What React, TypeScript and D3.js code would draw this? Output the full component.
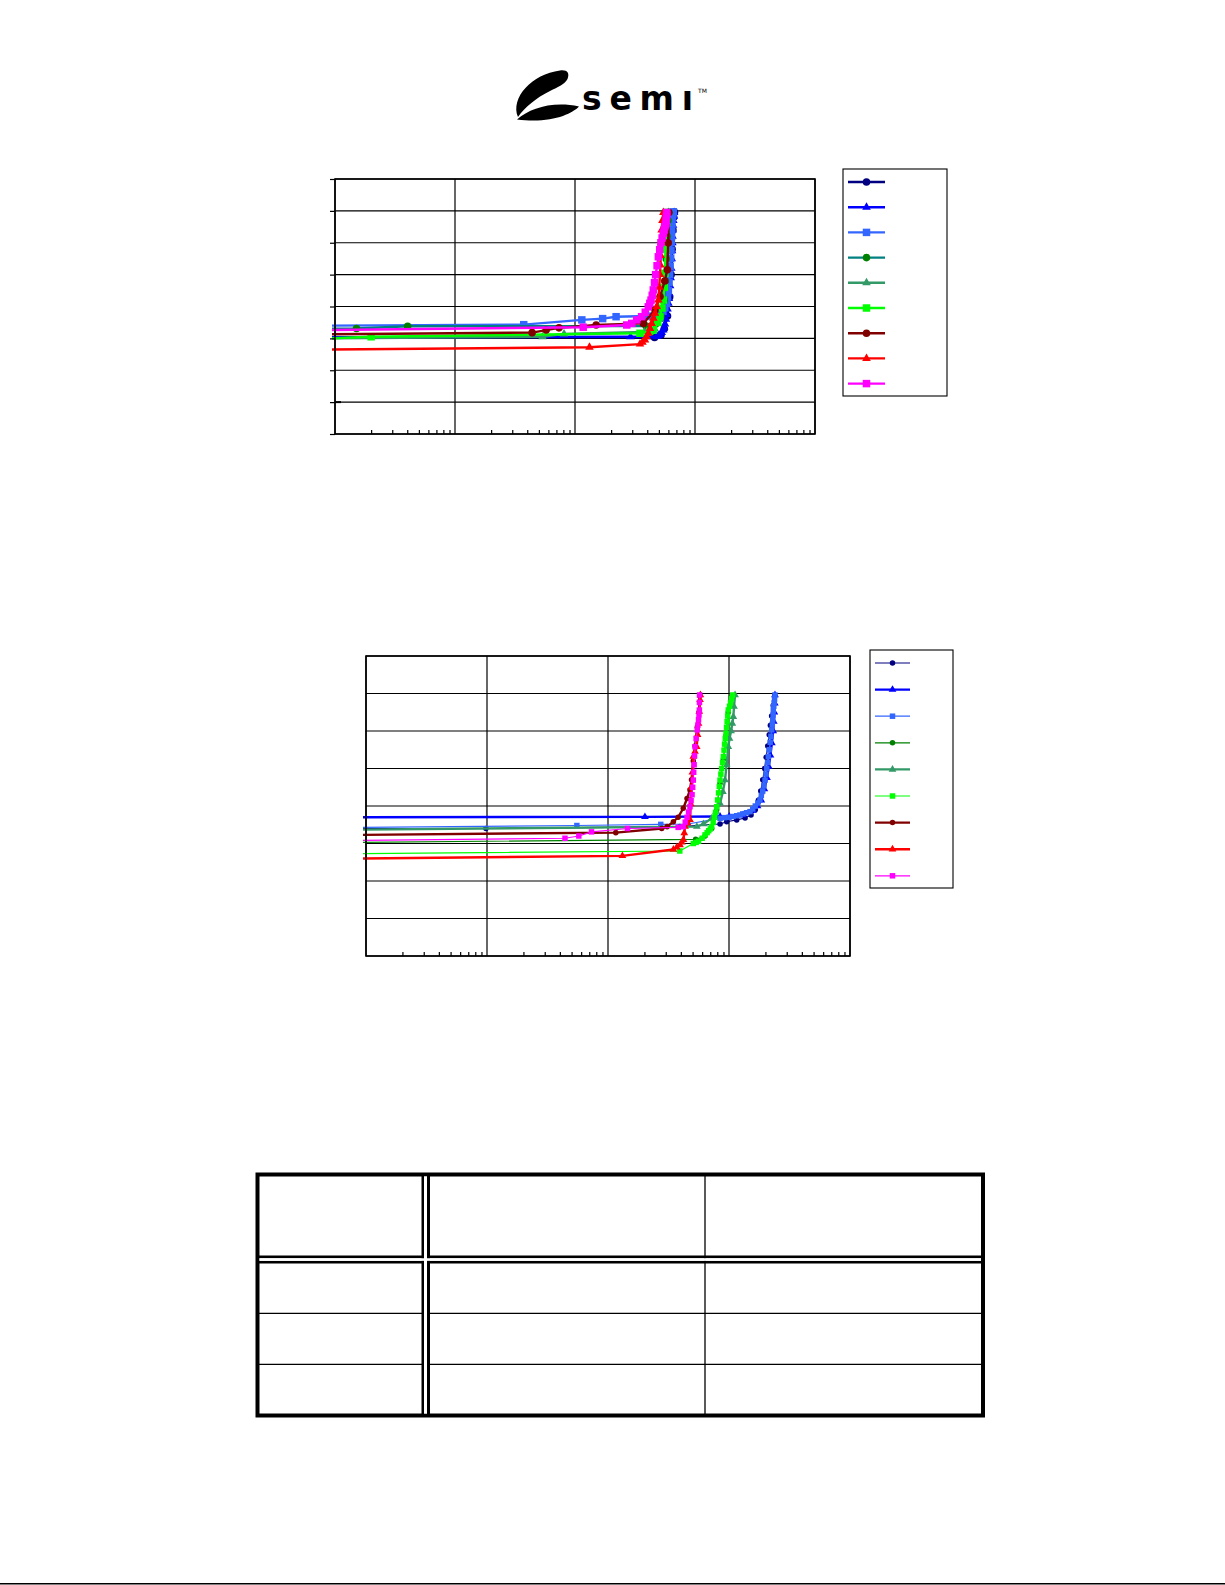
import * as d3 from 'd3';
import React, { useRef, useEffect } from 'react';

type Pt = [number, number];

// axis grid (log x over four decades, linear y)
const decades = [1, 10, 100, 1000, 10000];
const yGrid = [0, 10, 20, 30, 40, 50, 60, 70, 80];
const minorTicks = decades.slice(0, 4).flatMap((d) => [2, 3, 4, 5, 6, 7, 8, 9].map((m) => d * m));

// series styling, legend order
const markShapes = ['circle', 'triangle', 'square', 'circle', 'triangle', 'square', 'circle', 'triangle', 'square'];
const lineColors1 = ['#000080', '#0000FF', '#3366FF', '#008080', '#339966', '#00FF00', '#800000', '#FF0000', '#FF00FF'];
const markColors1 = ['#000080', '#0000FF', '#3366FF', '#008000', '#339966', '#00FF00', '#800000', '#FF0000', '#FF00FF'];
const lineColors2 = ['#000080', '#0000FF', '#3366FF', '#008000', '#339966', '#00FF00', '#800000', '#FF0000', '#FF00FF'];
const thick2 = [false, true, false, false, true, false, true, true, false];

// chart 1 series
const c1Navy: Pt[] = [[0.85, 30.2], [460, 30.3], [520, 31.0], [555, 33.0], [590, 37.0], [615, 43.0], [632, 50.0], [645, 58.0], [655, 64.0], [665, 68.0], [674, 69.6]];
const c1Blue: Pt[] = [[0.85, 30.4], [290, 30.5], [400, 30.5], [479, 30.6], [495, 30.9], [511, 31.2], [528, 31.8], [544, 32.6], [553, 33.5], [562, 34.5], [572, 36.0], [581, 37.5], [590, 39.2], [600, 41.0], [606, 42.5], [611, 44.0], [620, 46.5], [627, 49.0], [634, 52.0], [640, 55.0], [644, 57.5], [648, 60.0], [650, 62.0], [652, 64.0], [656, 65.5], [660, 67.0], [665, 68.3], [670, 69.5]];
const c1LightBlue: Pt[] = [[0.85, 34.0], [37.4, 34.3], [114, 35.8], [170, 36.2], [220, 36.8], [408, 37.0], [480, 37.5], [510, 37.9], [540, 38.5], [560, 39.6], [580, 41.0], [590, 43.0], [600, 45.0], [608, 47.5], [615, 50.0], [621, 52.5], [627, 55.0], [631, 57.5], [635, 60.0], [638, 62.0], [640, 64.0], [644, 66.0], [648, 68.0], [654, 69.0], [660, 69.7]];
const c1Teal: Pt[] = [[0.85, 33.0], [1.51, 33.1], [4.03, 33.8], [392, 33.9], [470, 34.5], [520, 37.0], [550, 42.0], [565, 48.0], [575, 55.0], [585, 62.0], [595, 67.0], [605, 69.5]];
const c1SeaGreen: Pt[] = [[0.85, 30.0], [53.6, 30.5], [81, 31.4], [380, 32.0], [460, 33.0], [510, 36.0], [540, 42.0], [560, 50.0], [575, 58.0], [590, 66.0], [600, 69.5]];
const c1Lime: Pt[] = [[0.85, 30.0], [2.0, 30.5], [348, 31.6], [420, 32.2], [449, 32.6], [490, 35.0], [511, 36.8], [530, 39.5], [544, 42.0], [555, 46.0], [562, 50.4], [568, 58.0], [573, 66.0], [580, 69.5]];
const c1DarkRed: Pt[] = [[0.85, 31.3], [43.9, 31.8], [57.5, 32.6], [73.6, 33.3], [150, 34.2], [371, 34.7], [464, 38.9], [511, 43.1], [560, 48.0], [588, 51.5], [598, 60.0], [605, 69.5]];
const c1Red: Pt[] = [[0.85, 26.5], [132, 27.2], [348, 28.2], [365, 28.8], [383, 29.5], [395, 30.5], [408, 31.6], [422, 33.1], [435, 34.7], [450, 36.3], [464, 37.9], [480, 40.0], [495, 42.0], [503, 46.0], [511, 50.0], [515, 53.0], [518, 56.0], [522, 60.0], [527, 64.0], [535, 67.0], [545, 69.5]];
const c1Magenta: Pt[] = [[0.85, 32.6], [117, 33.5], [270, 34.2], [297, 34.7], [327, 35.8], [359, 36.8], [385, 38.2], [408, 39.9], [420, 41.0], [430, 42.0], [440, 43.5], [449, 45.2], [460, 47.5], [470, 50.0], [483, 52.8], [495, 55.6], [508, 57.8], [520, 60.0], [532, 61.5], [544, 63.0], [553, 64.0], [560, 65.0], [567, 65.6], [573, 66.1], [576, 67.0], [578, 68.0], [580, 68.8], [581, 69.5]];

// chart 2 series
const c2Navy: Pt[] = [[0.85, 34.0], [9.8, 34.0], [392, 34.5], [843, 35.2], [957, 35.8], [1158, 36.3], [1358, 36.8], [1521, 37.6], [1650, 39.0], [1750, 41.5], [1830, 44.0], [1900, 47.0], [1970, 50.0], [2030, 53.0], [2090, 56.0], [2150, 59.0], [2200, 61.5], [2250, 64.0], [2320, 66.8], [2388, 69.4]];
const c2Blue: Pt[] = [[0.85, 37.0], [202, 37.1], [843, 37.2], [1004, 37.2], [1307, 37.6], [1579, 38.8], [1720, 40.0], [1850, 41.5], [1960, 44.5], [2060, 47.5], [2130, 50.5], [2200, 53.5], [2260, 56.8], [2320, 60.0], [2345, 62.5], [2370, 65.0], [2390, 67.4], [2399, 69.6]];
const c2LightBlue: Pt[] = [[0.85, 34.3], [55.3, 34.8], [273, 35.1], [456, 35.2], [843, 36.7], [920, 36.9], [1000, 37.0], [1080, 37.2], [1158, 37.4], [1230, 37.6], [1300, 37.9], [1400, 38.2], [1492, 38.5], [1570, 39.2], [1650, 40.0], [1730, 40.8], [1803, 41.6], [1850, 42.8], [1900, 44.0], [1945, 45.4], [1984, 46.9], [2020, 48.5], [2050, 50.0], [2085, 51.6], [2113, 53.2], [2150, 55.0], [2190, 57.0], [2220, 58.6], [2253, 60.3], [2280, 61.8], [2300, 63.0], [2315, 64.3], [2323, 65.6], [2345, 66.6], [2360, 67.5], [2380, 68.5], [2399, 69.6]];
const c2Green: Pt[] = [[0.85, 30.3], [530, 31.1], [634, 32.0], [719, 34.0], [791, 39.0], [843, 46.0], [898, 52.5], [945, 58.8], [986, 65.0], [1060, 69.4]];
const c2SeaGreen: Pt[] = [[0.85, 33.7], [542, 34.5], [615, 35.2], [719, 36.7], [780, 38.5], [843, 40.7], [890, 43.8], [927, 46.9], [955, 51.0], [986, 55.8], [1010, 58.0], [1040, 60.0], [1065, 62.0], [1086, 63.8], [1100, 66.5], [1122, 69.6]];
const c2Lime: Pt[] = [[0.85, 27.3], [392, 28.0], [507, 30.0], [535, 30.3], [560, 30.6], [600, 31.4], [634, 32.3], [660, 32.9], [680, 33.4], [700, 33.9], [719, 34.5], [740, 35.6], [760, 37.0], [775, 38.3], [791, 39.8], [805, 41.6], [820, 43.5], [832, 45.2], [843, 46.9], [857, 48.5], [870, 50.0], [884, 51.6], [898, 53.2], [910, 54.9], [920, 56.5], [932, 58.0], [945, 59.4], [955, 61.0], [965, 62.5], [975, 64.0], [986, 65.6], [1010, 66.6], [1030, 67.5], [1050, 68.6], [1072, 69.6]];
const c2DarkRed: Pt[] = [[0.85, 32.3], [116, 32.9], [278, 34.0], [308, 34.5], [347, 35.8], [380, 37.0], [419, 39.4], [450, 42.0], [476, 44.3], [490, 47.0], [507, 52.0], [524, 56.0], [547, 61.0], [565, 65.0], [572, 69.4]];
const c2Red: Pt[] = [[0.85, 26.0], [131.5, 26.7], [347, 28.4], [370, 29.0], [394, 29.6], [408, 30.3], [420, 31.0], [427, 32.8], [433, 34.5], [455, 35.4], [476, 36.3], [483, 40.5], [490, 45.0], [498, 49.0], [507, 53.2], [524, 54.5], [541, 55.8], [550, 59.0], [560, 62.0], [568, 65.2], [576, 68.3], [580, 69.6]];
const c2Magenta: Pt[] = [[0.85, 30.8], [44.1, 31.4], [57.4, 32.0], [73.1, 33.1], [145, 34.0], [380, 34.3], [419, 34.5], [435, 35.7], [450, 37.0], [463, 38.4], [476, 39.8], [486, 41.4], [495, 43.0], [501, 45.0], [507, 46.9], [511, 49.0], [515, 51.0], [519, 53.4], [524, 55.8], [535, 58.0], [547, 60.3], [553, 61.6], [560, 63.0], [565, 64.3], [569, 65.6], [570, 67.6], [572, 69.6]];

const chart1 = [c1Navy, c1Blue, c1LightBlue, c1Teal, c1SeaGreen, c1Lime, c1DarkRed, c1Red, c1Magenta];
const chart2 = [c2Navy, c2Blue, c2LightBlue, c2Green, c2SeaGreen, c2Lime, c2DarkRed, c2Red, c2Magenta];

const symbolOf = (s: string) => (s === 'circle' ? d3.symbolCircle : s === 'triangle' ? d3.symbolTriangle : d3.symbolSquare);

type PlotProps = {
  id: string;
  box: { x: number; y: number; w: number; h: number };
  legend: { x: number; y: number; w: number; h: number; first: number; step: number; l0: number; l1: number };
  data: Pt[][];
  lineColors: string[];
  markColors: string[];
  widths: number[];
  sizes: { circle: number; triangle: number; square: number };
  leftTicks: boolean;
};

const Plot = ({ id, box, legend, data, lineColors, markColors, widths, sizes, leftTicks }: PlotProps) => {
  const axisRef = useRef(null);
  const x = d3.scaleLog().domain([1, 10000]).range([box.x, box.x + box.w]);
  const y = d3.scaleLinear().domain([0, 80]).range([box.y + box.h, box.y]);
  const line = d3.line<Pt>().x((d) => x(d[0])).y((d) => y(d[1]));
  const sym = (s: string) => d3.symbol().type(symbolOf(s)).size((sizes as any)[s])() as string;

  useEffect(() => {
    if (!axisRef.current) return;
    const g = d3.select(axisRef.current);
    g.selectAll('*').remove();
    // minor log ticks, pointing into the plot
    const bx = g.append('g')
      .attr('transform', 'translate(0,' + (box.y + box.h) + ')')
      .call(d3.axisBottom(x).tickValues(minorTicks).tickSize(-4).tickFormat(() => ''));
    bx.select('.domain').remove();
    bx.selectAll('line').attr('stroke', '#000').attr('stroke-width', 1.2);
    if (leftTicks) {
      const ly = g.append('g')
        .attr('transform', 'translate(' + box.x + ',0)')
        .call(d3.axisLeft(y).tickValues(yGrid).tickSize(5).tickFormat(() => ''));
      ly.select('.domain').remove();
      ly.selectAll('line').attr('stroke', '#000').attr('stroke-width', 1.2);
      g.append('line')
        .attr('x1', box.x).attr('x2', box.x + 6)
        .attr('y1', y(10)).attr('y2', y(10))
        .attr('stroke', '#000').attr('stroke-width', 2);
    }
  }, [axisRef.current]);

  return (
    <g>
      <defs>
        <clipPath id={id}>
          <rect x={box.x - 3} y={box.y - 6} width={box.w + 3} height={box.h + 6} />
        </clipPath>
      </defs>
      {yGrid.map((v) => (
        <line key={'h' + v} x1={box.x} x2={box.x + box.w} y1={y(v)} y2={y(v)} stroke="#000" strokeWidth={1.2} />
      ))}
      {decades.map((v) => (
        <line key={'v' + v} x1={x(v)} x2={x(v)} y1={box.y} y2={box.y + box.h} stroke="#000" strokeWidth={1.2} />
      ))}
      <g clipPath={'url(#' + id + ')'}>
        {data.map((s, i) => (
          <g key={i}>
            <path d={line(s) as string} fill="none" stroke={lineColors[i]} strokeWidth={widths[i]} strokeLinejoin="round" />
            {s.map((p, j) => (
              <path key={j} d={sym(markShapes[i])} transform={'translate(' + x(p[0]) + ',' + y(p[1]) + ')'} fill={markColors[i]} />
            ))}
          </g>
        ))}
      </g>
      <rect x={box.x} y={box.y} width={box.w} height={box.h} fill="none" stroke="#000" strokeWidth={1.6} />
      <g ref={axisRef} />
      <rect x={legend.x} y={legend.y} width={legend.w} height={legend.h} fill="#fff" stroke="#000" strokeWidth={1.1} />
      {data.map((_, i) => {
        const ly = legend.first + i * legend.step;
        return (
          <g key={'lg' + i}>
            <line x1={legend.l0} x2={legend.l1} y1={ly} y2={ly} stroke={lineColors[i]} strokeWidth={widths[i]} />
            <path d={sym(markShapes[i])} transform={'translate(' + (legend.l0 + legend.l1) / 2 + ',' + ly + ')'} fill={markColors[i]} />
          </g>
        );
      })}
    </g>
  );
};

const Logo = () => (
  <g>
    <path d="M518,117 C510,98 532,74 560,70.5 C567,69.5 570,73 567.5,79 C565,84 558,87 550,91 C536,98 525,107 518,117 Z" fill="#000" />
    <path d="M517,119.5 C530,108 553,101 579,106.5 C572,114 550,124 517,119.5 Z" fill="#000" />
    <text x={582} y={110} fontFamily="'DejaVu Sans', sans-serif" fontWeight={700} fontSize={33} textLength={111} lengthAdjust="spacing" fill="#000">semı</text>
    <text x={698} y={93} fontFamily="'DejaVu Sans', sans-serif" fontSize={6} fill="#000">TM</text>
  </g>
);

const Table = () => (
  <g>
    <rect x={257.5} y={1174.5} width={725.5} height={241} fill="#fff" stroke="#000" strokeWidth={4} />
    <line x1={422.75} x2={422.75} y1={1174.5} y2={1415.5} stroke="#000" strokeWidth={2.5} />
    <line x1={428.5} x2={428.5} y1={1174.5} y2={1415.5} stroke="#000" strokeWidth={3} />
    <line x1={705} x2={705} y1={1174.5} y2={1415.5} stroke="#000" strokeWidth={1.3} />
    <line x1={257.5} x2={983} y1={1256.9} y2={1256.9} stroke="#000" strokeWidth={2.7} />
    <line x1={257.5} x2={983} y1={1262.2} y2={1262.2} stroke="#000" strokeWidth={2.7} />
    <line x1={257.5} x2={983} y1={1313.3} y2={1313.3} stroke="#000" strokeWidth={1.3} />
    <line x1={257.5} x2={983} y1={1364.3} y2={1364.3} stroke="#000" strokeWidth={1.3} />
    <rect x={259.5} y={1258.25} width={721.5} height={2.6} fill="#fff" />
    <rect x={424} y={1176.5} width={3} height={237} fill="#fff" />
  </g>
);

export default function App() {
  return (
    <svg width={1225} height={1585} style={{ position: 'absolute', left: 0, top: 0, background: '#fff' }}>
      <rect x={0} y={0} width={1225} height={1585} fill="#fff" />
      <Logo />
      <Plot
        id="clip1"
        box={{ x: 335, y: 179, w: 480, h: 255 }}
        legend={{ x: 843, y: 169, w: 104, h: 227, first: 182, step: 25.2, l0: 848, l1: 885 }}
        data={chart1}
        lineColors={lineColors1}
        markColors={markColors1}
        widths={chart1.map(() => 2.4)}
        sizes={{ circle: 45, triangle: 32, square: 56 }}
        leftTicks={true}
      />
      <Plot
        id="clip2"
        box={{ x: 366, y: 656, w: 484, h: 300 }}
        legend={{ x: 870, y: 650, w: 83, h: 238, first: 663, step: 26.6, l0: 875, l1: 910 }}
        data={chart2}
        lineColors={lineColors2}
        markColors={lineColors2}
        widths={thick2.map((t) => (t ? 2.4 : 1.2))}
        sizes={{ circle: 24, triangle: 26, square: 30 }}
        leftTicks={false}
      />
      <Table />
      <line x1={0} x2={1225} y1={1583.7} y2={1583.7} stroke="#000" strokeWidth={1.6} />
    </svg>
  );
}
